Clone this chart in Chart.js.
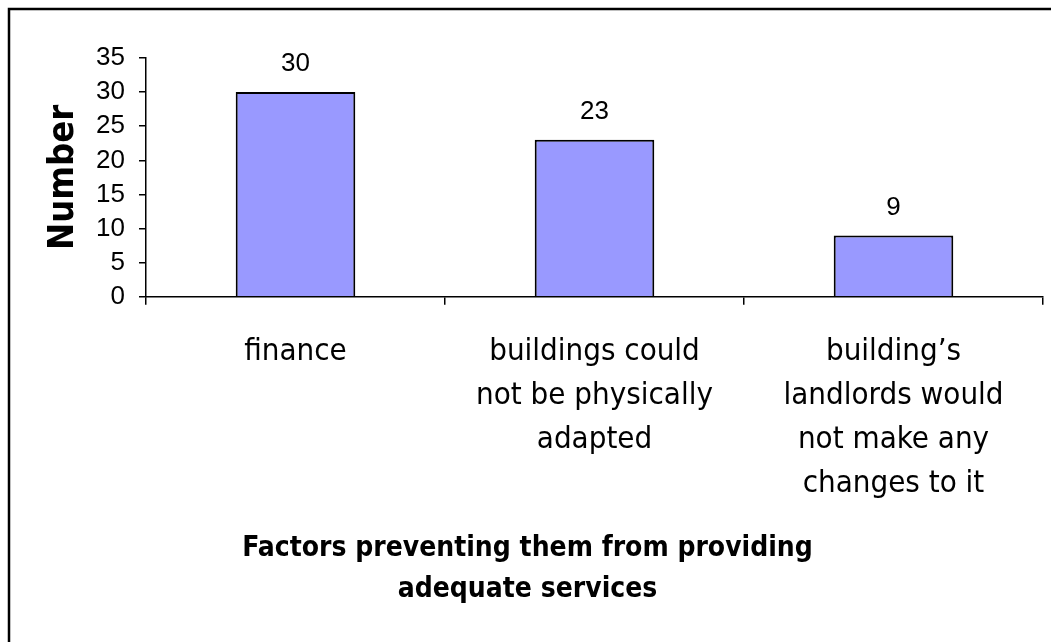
<!DOCTYPE html>
<html>
<head>
<meta charset="utf-8">
<title>Factors preventing adequate services</title>
<script src="https://cdn.jsdelivr.net/npm/chart.js@4/dist/chart.umd.min.js"></script>
<style>
  html, body { margin: 0; padding: 0; background: #fff; }
  #wrap { width: 1051px; height: 642px; }
</style>
</head>
<body>
<div id="wrap"><canvas id="chartFactors" width="1051" height="642"></canvas></div>
<script>
// categorie (etichette su più righe) e valori
const categories = [
    ['finance'],
    ['buildings could', 'not be physically', 'adapted'],
    ['building\u2019s', 'landlords would', 'not make any', 'changes to it']
];
const counts = [30, 23, 9];
const yTicks = { min: 0, max: 35, step: 5 };

const labelFont = "'DejaVu Sans Condensed', 'DejaVu Sans', sans-serif";
const numFont = "'Liberation Sans', Arial, sans-serif";

// cornice nera attorno al grafico
const framePlugin = {
    id: 'frame',
    beforeDraw(chart) {
        const ctx = chart.ctx;
        ctx.save();
        ctx.strokeStyle = '#000';
        ctx.lineWidth = 2.5;
        ctx.strokeRect(9, 9, chart.width + 20, chart.height + 20);
        ctx.restore();
    }
};

// valori sopra le barre
const valueLabels = {
    id: 'valueLabels',
    afterDatasetsDraw(chart) {
        const ctx = chart.ctx;
        const meta = chart.getDatasetMeta(0);
        ctx.save();
        ctx.font = '26px ' + numFont;
        ctx.fillStyle = '#000';
        ctx.textAlign = 'center';
        ctx.textBaseline = 'middle';
        meta.data.forEach((bar, i) => {
            ctx.fillText(String(counts[i]), bar.x, bar.y - 28);
        });
        ctx.restore();
    }
};

const ctx = document.getElementById('chartFactors').getContext('2d');
new Chart(ctx, {
    type: 'bar',
    data: {
        labels: categories,
        datasets: [{
            label: 'Number',
            data: counts,
            backgroundColor: '#9999ff',
            borderColor: '#000',
            borderWidth: 2,
            barPercentage: 0.4,
            categoryPercentage: 1
        }]
    },
    options: {
        responsive: false,
        animation: false,
        layout: { padding: { left: 12, top: 58, right: 8, bottom: 4 } },
        plugins: {
            legend: { display: false },
            tooltip: { enabled: false },
            title: {
                display: true,
                position: 'bottom',
                text: ['Factors preventing them from providing', 'adequate services'],
                color: '#000',
                font: { family: labelFont, size: 28, weight: 'bold', lineHeight: 1.45 },
                padding: { top: 23, bottom: 28 }
            }
        },
        scales: {
            x: {
                afterFit(scale) { scale.height = 209; },
                grid: { drawOnChartArea: false, tickLength: 8, color: '#000', lineWidth: 1.5 },
                border: { color: '#000', width: 1.5 },
                ticks: {
                    color: '#000',
                    padding: 25,
                    maxRotation: 0,
                    autoSkip: false,
                    font: { family: labelFont, size: 31, lineHeight: 1.42 }
                }
            },
            y: {
                min: yTicks.min,
                max: yTicks.max,
                afterFit(scale) { scale.width = 134; },
                grid: { drawOnChartArea: false, tickLength: 7, color: '#000', lineWidth: 1.5 },
                border: { color: '#000', width: 1.5 },
                ticks: {
                    stepSize: yTicks.step,
                    autoSkip: false,
                    color: '#000',
                    padding: 14,
                    font: { family: numFont, size: 26 }
                },
                title: {
                    display: true,
                    text: 'Number',
                    color: '#000',
                    padding: { top: 30, bottom: 0 },
                    font: { family: labelFont, size: 36, weight: 'bold' }
                }
            }
        }
    },
    plugins: [framePlugin, valueLabels]
});
</script>
</body>
</html>
